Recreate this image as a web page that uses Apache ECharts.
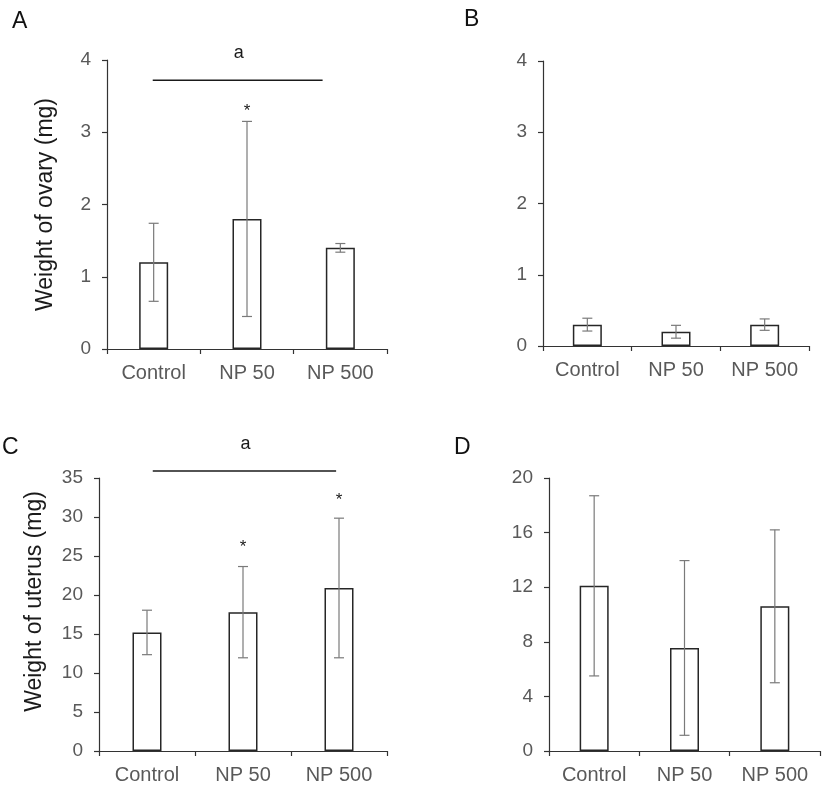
<!DOCTYPE html>
<html>
<head>
<meta charset="utf-8">
<script src="https://cdn.jsdelivr.net/npm/echarts@6/dist/echarts.min.js"></script>
<style>html,body{margin:0;padding:0;background:#fff;}#c{width:827px;height:790px;}</style>
</head>
<body>
<div id="c"></div>
<script>
// ---- data ----
const categories = ['Control', 'NP 50', 'NP 500'];
const ovaryMeanA = [1.2, 1.8, 1.4];
const ovarySdA = [0.54, 1.35, 0.06];
const ovaryMeanB = [0.3, 0.2, 0.3];
const ovarySdB = [0.09, 0.09, 0.08];
const uterusMeanC = [15.2, 17.8, 20.9];
const uterusSdC = [2.85, 5.85, 8.95];
const uterusMeanD = [12.1, 7.55, 10.6];
const uterusSdD = [6.6, 6.4, 5.6];
const ticksAB = [0, 1, 2, 3, 4];
const ticksC = [0, 5, 10, 15, 20, 25, 30, 35];
const ticksD = [0, 4, 8, 12, 16, 20];
const starsA = [[1, 3.35]];
const starsC = [[1, 26.6], [2, 32.6]];
// significance bracket: [start offset (categories from Control), end offset, y value]
const bracketA = [[-0.01, 1.81, 3.72]];
const bracketC = [[0.06, 1.97, 35.9]];
const panelLetters = ['A', 'B', 'C', 'D'];

const FONT = 'Liberation Sans, Arial, sans-serif';
const AXIS_COLOR = '#333333';
const TICK_TEXT = '#595959';

const grids = [
  {left: 107, top: 60, width: 280, height: 289},
  {left: 543, top: 61, width: 266, height: 285},
  {left: 99, top: 478, width: 288, height: 273},
  {left: 549, top: 478, width: 271, height: 273}
];

function yAxis(gridIndex, ticks, name, nameGap, pad) {
  return {
    type: 'value', gridIndex: gridIndex,
    min: ticks[0], max: ticks[ticks.length - 1], interval: ticks[1] - ticks[0],
    name: name || '', nameLocation: 'middle', nameGap: nameGap || 0,
    nameTextStyle: {fontFamily: FONT, fontSize: 23, color: '#1a1a1a', padding: pad || 0},
    axisLine: {show: true, lineStyle: {color: AXIS_COLOR, width: 1.2}},
    axisTick: {show: true, length: 5, lineStyle: {color: AXIS_COLOR, width: 1.2}},
    axisLabel: {fontFamily: FONT, fontSize: 19, color: TICK_TEXT, margin: 16},
    splitLine: {show: false}
  };
}
function xAxis(gridIndex) {
  return {
    type: 'category', gridIndex: gridIndex, data: categories,
    axisLine: {show: true, lineStyle: {color: AXIS_COLOR, width: 1.2}},
    axisTick: {show: true, length: 5, lineStyle: {color: AXIS_COLOR, width: 1.2}},
    axisLabel: {fontFamily: FONT, fontSize: 20, color: TICK_TEXT, margin: 14}
  };
}
function barSeries(i, data) {
  return {
    type: 'bar', xAxisIndex: i, yAxisIndex: i, data: data, barWidth: 29,
    itemStyle: {color: '#ffffff', borderColor: '#262626', borderWidth: 1.5},
    silent: true, z: 2
  };
}
function errSeries(i, mean, sd) {
  const d = mean.map((m, k) => [k, m - sd[k], m + sd[k]]);
  return {
    type: 'custom', xAxisIndex: i, yAxisIndex: i, data: d, z: 5, silent: true,
    encode: {x: 0, y: [1, 2]},
    renderItem: function (params, api) {
      const x = api.value(0);
      const lo = api.coord([x, api.value(1)]);
      const hi = api.coord([x, api.value(2)]);
      const h = 5;
      const st = {stroke: '#7a7a7a', lineWidth: 1.2};
      return {type: 'group', children: [
        {type: 'line', shape: {x1: hi[0], y1: hi[1], x2: lo[0], y2: lo[1]}, style: st},
        {type: 'line', shape: {x1: hi[0] - h, y1: hi[1], x2: hi[0] + h, y2: hi[1]}, style: st},
        {type: 'line', shape: {x1: lo[0] - h, y1: lo[1], x2: lo[0] + h, y2: lo[1]}, style: st}
      ]};
    }
  };
}
function starSeries(i, data) {
  return {
    type: 'custom', xAxisIndex: i, yAxisIndex: i, data: data, z: 6, silent: true, clip: false,
    renderItem: function (params, api) {
      const p = api.coord([api.value(0), api.value(1)]);
      return {type: 'text', x: p[0], y: p[1] + 4, style: {text: '*', fontFamily: FONT, fontSize: 17, fill: '#1a1a1a', align: 'center', verticalAlign: 'middle'}};
    }
  };
}
function bracketSeries(i, data) {
  return {
    type: 'custom', xAxisIndex: i, yAxisIndex: i, data: data, z: 6, silent: true, clip: false,
    renderItem: function (params, api) {
      const y = api.value(2);
      const c0 = api.coord([0, y]);
      const w = api.size([1, 0])[0];
      const x1 = c0[0] + api.value(0) * w;
      const x2 = c0[0] + api.value(1) * w;
      return {type: 'group', children: [
        {type: 'line', shape: {x1: x1, y1: c0[1], x2: x2, y2: c0[1]}, style: {stroke: '#1a1a1a', lineWidth: 1.3}},
        {type: 'text', x: (x1 + x2) / 2 + 1, y: c0[1] - 27, style: {text: 'a', fontFamily: FONT, fontSize: 18, fill: '#1a1a1a', align: 'center', verticalAlign: 'middle'}}
      ]};
    }
  };
}

const letterPos = [[12, 10], [464, 8], [2, 436], [454, 436]];

const option = {
  animation: false,
  backgroundColor: '#ffffff',
  grid: grids.map(g => Object.assign({containLabel: false}, g)),
  xAxis: [xAxis(0), xAxis(1), xAxis(2), xAxis(3)],
  yAxis: [
    yAxis(0, ticksAB, 'Weight of ovary (mg)', 50),
    yAxis(1, ticksAB),
    yAxis(2, ticksC, 'Weight of uterus (mg)', 53, [0, 0, 0, 26]),
    yAxis(3, ticksD)
  ],
  title: panelLetters.map((t, k) => ({
    text: t, left: letterPos[k][0], top: letterPos[k][1], padding: 0,
    textStyle: {fontFamily: FONT, fontSize: 23, fontWeight: 'normal', color: '#111111'}
  })),
  series: [
    barSeries(0, ovaryMeanA), errSeries(0, ovaryMeanA, ovarySdA),
    barSeries(1, ovaryMeanB), errSeries(1, ovaryMeanB, ovarySdB),
    barSeries(2, uterusMeanC), errSeries(2, uterusMeanC, uterusSdC),
    barSeries(3, uterusMeanD), errSeries(3, uterusMeanD, uterusSdD),
    starSeries(0, starsA), starSeries(2, starsC),
    bracketSeries(0, bracketA), bracketSeries(2, bracketC)
  ]
};
const chart = echarts.init(document.getElementById('c'), null, {renderer: 'canvas'});
chart.setOption(option);
</script>
</body>
</html>
